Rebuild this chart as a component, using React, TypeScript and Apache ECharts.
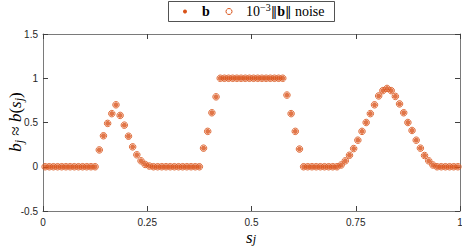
import React, { useEffect, useRef } from "react";
import * as echarts from "echarts";

// sample points s_j (midpoints of 100 cells)
const sValues = [
  0.005, 0.015, 0.025, 0.035, 0.045, 0.055, 0.065, 0.075, 0.085, 0.095,
  0.105, 0.115, 0.125, 0.135, 0.145, 0.155, 0.165, 0.175, 0.185, 0.195,
  0.205, 0.215, 0.225, 0.235, 0.245, 0.255, 0.265, 0.275, 0.285, 0.295,
  0.305, 0.315, 0.325, 0.335, 0.345, 0.355, 0.365, 0.375, 0.385, 0.395,
  0.405, 0.415, 0.425, 0.435, 0.445, 0.455, 0.465, 0.475, 0.485, 0.495,
  0.505, 0.515, 0.525, 0.535, 0.545, 0.555, 0.565, 0.575, 0.585, 0.595,
  0.605, 0.615, 0.625, 0.635, 0.645, 0.655, 0.665, 0.675, 0.685, 0.695,
  0.705, 0.715, 0.725, 0.735, 0.745, 0.755, 0.765, 0.775, 0.785, 0.795,
  0.805, 0.815, 0.825, 0.835, 0.845, 0.855, 0.865, 0.875, 0.885, 0.895,
  0.905, 0.915, 0.925, 0.935, 0.945, 0.955, 0.965, 0.975, 0.985, 0.995,
];

// b_j values
const bValues = [
  0, 0, 0, 0, 0, 0, 0, 0, 0, 0,
  0, 0, 0, 0.19, 0.35, 0.49, 0.6, 0.7, 0.58, 0.47,
  0.345, 0.225, 0.135, 0.067, 0.026, 0.008, 0, 0, 0, 0,
  0, 0, 0, 0, 0, 0, 0, 0, 0.21, 0.4,
  0.61, 0.79, 1, 1, 1, 1, 1, 1, 1, 1,
  1, 1, 1, 1, 1, 1, 1, 1, 0.81, 0.6,
  0.4, 0.2, 0, 0, 0, 0, 0, 0, 0, 0,
  0, 0.02, 0.067, 0.13, 0.205, 0.3, 0.4, 0.5, 0.6, 0.7,
  0.8, 0.86, 0.885, 0.86, 0.795, 0.71, 0.61, 0.5, 0.41, 0.3,
  0.21, 0.127, 0.067, 0.02, 0, 0, 0, 0, 0, 0,
];

// noisy data (noise level 1e-3 ||b|| is not visible at this scale)
const bNoisyValues = bValues;

const xRange = [0, 1];
const xStep = 0.25;
const yRange = [-0.5, 1.5];
const yStep = 0.5;

const ORANGE = "#D95319";
const SERIF = '"Liberation Serif", "Times New Roman", serif';
const SANS = '"Liberation Sans", Helvetica, Arial, sans-serif';

export default function App() {
  const ref = useRef<HTMLDivElement>(null);

  useEffect(() => {
    if (!ref.current) return;
    const chart = echarts.init(ref.current, undefined, { renderer: "svg" });

    const mathRich = {
      i: { fontFamily: SERIF, fontStyle: "italic", fontSize: 17, lineHeight: 20, color: "#000" },
      n: { fontFamily: SERIF, fontSize: 17, lineHeight: 20, color: "#000" },
      sub: { fontFamily: SERIF, fontStyle: "italic", fontSize: 12, lineHeight: 9, verticalAlign: "bottom", color: "#000" },
    };
    const xNameRich = {
      i: { fontFamily: SERIF, fontStyle: "italic", fontSize: 17, lineHeight: 16, color: "#000" },
      sub: { fontFamily: SERIF, fontStyle: "italic", fontSize: 12, lineHeight: 6, verticalAlign: "bottom", color: "#000" },
    };

    const axisLine = { show: true, onZero: false, lineStyle: { color: "#7a7a7a", width: 1 } };
    const axisTick = { show: true, inside: true, length: 5, lineStyle: { color: "#404040", width: 1 } };

    chart.setOption({
      animation: false,
      grid: { left: 43, right: 2, top: 34, bottom: 36, containLabel: false, outerBoundsMode: "none" },
      xAxis: [
        {
          type: "value",
          position: "bottom",
          min: xRange[0],
          max: xRange[1],
          interval: xStep,
          axisLine,
          axisTick,
          splitLine: { show: false },
          axisLabel: { color: "#262626", fontFamily: SANS, fontSize: 10, margin: 6 },
        },
        {
          type: "value",
          position: "top",
          min: xRange[0],
          max: xRange[1],
          interval: xStep,
          axisLine,
          axisTick,
          splitLine: { show: false },
          axisLabel: { show: false },
        },
      ],
      yAxis: [
        {
          type: "value",
          position: "left",
          min: yRange[0],
          max: yRange[1],
          interval: yStep,
          axisLine,
          axisTick,
          splitLine: { show: false },
          axisLabel: { color: "#262626", fontFamily: SANS, fontSize: 10, margin: 5 },
        },
        {
          type: "value",
          position: "right",
          min: yRange[0],
          max: yRange[1],
          interval: yStep,
          axisLine,
          axisTick,
          splitLine: { show: false },
          axisLabel: { show: false },
        },
      ],
      series: [
        {
          type: "scatter",
          name: "b",
          xAxisIndex: 0,
          yAxisIndex: 0,
          data: sValues.map((s, i) => [s, bValues[i]]),
          symbol: "circle",
          symbolSize: 5,
          itemStyle: { color: ORANGE },
          z: 2,
        },
        {
          type: "scatter",
          name: "noise",
          xAxisIndex: 0,
          yAxisIndex: 0,
          data: sValues.map((s, i) => [s, bNoisyValues[i]]),
          symbol: "circle",
          symbolSize: 6.5,
          itemStyle: { color: "rgba(0,0,0,0)", borderColor: ORANGE, borderWidth: 1, opacity: 0.85 },
          z: 3,
        },
      ],
      graphic: [
        {
          type: "text",
          x: 15,
          y: 122,
          rotation: Math.PI / 2,
          style: {
            text: "{i|b}{sub|j}{n| ≈ }{i|b}{n|(}{i|s}{sub|j}{n|)}",
            align: "center",
            verticalAlign: "middle",
            rich: mathRich,
          },
          z: 11,
        },
        {
          type: "text",
          x: 251,
          y: 237,
          style: {
            text: "{i|s}{sub|j}",
            align: "center",
            verticalAlign: "middle",
            rich: xNameRich,
          },
          z: 11,
        },
        {
          type: "rect",
          shape: { x: 168.5, y: 1.5, width: 166, height: 20 },
          style: { fill: "#fff", stroke: "#262626", lineWidth: 0.8 },
          z: 10,
        },
        {
          type: "circle",
          shape: { cx: 185, cy: 11.5, r: 2 },
          style: { fill: ORANGE },
          z: 11,
        },
        {
          type: "text",
          x: 202,
          y: 11.5,
          style: {
            text: "b",
            font: `bold 14px ${SERIF}`,
            fill: "#000",
            verticalAlign: "middle",
            align: "left",
          },
          z: 11,
        },
        {
          type: "circle",
          shape: { cx: 229, cy: 11.5, r: 3 },
          style: { fill: "none", stroke: ORANGE, lineWidth: 1 },
          z: 11,
        },
        {
          type: "text",
          x: 246,
          y: 11.5,
          style: {
            text: "{n|10}{sup|−3}{d|‖}{b|b}{d|‖}{n| noise}",
            verticalAlign: "middle",
            align: "left",
            rich: {
              n: { fontFamily: SERIF, fontSize: 14, lineHeight: 18, color: "#000" },
              d: { fontFamily: '"DejaVu Serif", "DejaVu Sans", serif', fontSize: 13, lineHeight: 18, color: "#000" },
              b: { fontFamily: SERIF, fontSize: 14, fontWeight: "bold", lineHeight: 18, color: "#000" },
              sup: { fontFamily: SERIF, fontSize: 10, lineHeight: 10, verticalAlign: "top", color: "#000" },
            },
          },
          z: 11,
        },
      ],
    });

    return () => chart.dispose();
  }, []);

  return <div ref={ref} style={{ width: 462, height: 247, position: "absolute", left: 0, top: 0 }} />;
}
